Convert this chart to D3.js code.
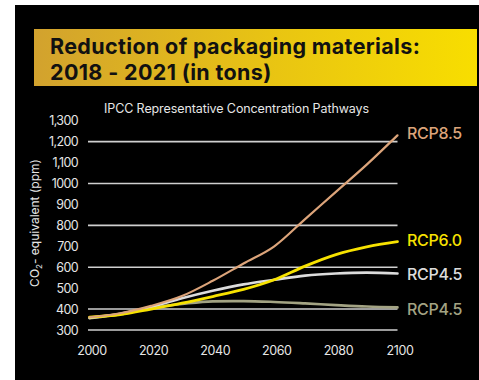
<!DOCTYPE html>
<html>
<head>
<meta charset="utf-8">
<script src="https://cdn.jsdelivr.net/npm/d3@7"></script>
<style>
  body { margin: 0; background: #fff; }
  svg { display: block; font-family: Inter, 'Open Sans', sans-serif; }
</style>
</head>
<body>
<svg id="chart" width="479" height="380"></svg>
<script>
// years on the x axis
var years = [2000, 2010, 2020, 2030, 2040, 2050, 2060, 2070, 2080, 2090, 2100]

// series values (ppm)
var rcp85 = [361, 380, 415, 462, 535, 618, 700, 830, 960, 1090, 1230]
var rcp60 = [362, 374, 400, 428, 460, 494, 540, 605, 660, 697, 722]
var rcp45 = [358, 378, 410, 452, 488, 518, 540, 560, 570, 574, 570]
var rcp26 = [356, 375, 405, 424, 437, 438, 434, 427, 419, 412, 408]

var seriesNames = ['RCP4.5', 'RCP4.5', 'RCP6.0', 'RCP8.5']
var seriesColors = ['#a3a383', '#dcdcdc', '#f7e200', '#dca47a']

// tick labels
var yTicks = [300, 400, 500, 600, 700, 800, 900, 1000, 1100, 1200, 1300]
var yTickLabels = ['300', '400', '500', '600', '700', '800', '900', '1000', '1,100', '1,200', '1,300']
var gridValues = [300, 400, 600, 800, 1000, 1200]
var xTicks = [2000, 2020, 2040, 2060, 2080, 2100]

var svg = d3.select('#chart')

// black panel
svg.append('rect')
  .attr('x', 15).attr('y', 5)
  .attr('width', 464).attr('height', 375)
  .attr('fill', '#000')

// title banner with gradient
var grad = svg.append('defs').append('linearGradient')
  .attr('id', 'banner')
  .attr('x1', '0%').attr('x2', '100%')
grad.append('stop').attr('offset', '0%').attr('stop-color', '#d2a22e')
grad.append('stop').attr('offset', '55%').attr('stop-color', '#e9c512')
grad.append('stop').attr('offset', '100%').attr('stop-color', '#f8de00')

svg.append('rect')
  .attr('x', 34).attr('y', 29)
  .attr('width', 443).attr('height', 57)
  .attr('fill', 'url(#banner)')

// two title lines as separate texts
var titleLines = ['Reduction of packaging materials:', '2018 - 2021 (in tons)']
svg.append('g')
  .selectAll('text')
  .data(titleLines)
  .enter()
  .append('text')
  .attr('x', 50)
  .attr('y', (d, i) => 53.5 + i * 26.5)
  .attr('font-size', 21.5)
  .attr('font-weight', 700)
  .attr('fill', '#111')
  .attr('letter-spacing', 0.35)
  .text(d => d)

// scales
var x = d3.scaleLinear().domain([2000, 2100]).range([89.5, 397.5])
var y = d3.scaleLinear().domain([300, 1300]).range([330, 120.7])

// subtitle
svg.append('text')
  .attr('x', 104).attr('y', 113)
  .attr('font-size', 12.5)
  .attr('fill', '#e6e6e6')
  .attr('letter-spacing', -0.1)
  .text('IPCC Representative Concentration Pathways')

// grid lines
svg.append('g')
  .selectAll('line')
  .data(gridValues)
  .enter()
  .append('line')
  .attr('x1', x(2000) - 1.5)
  .attr('x2', x(2100))
  .attr('y1', d => y(d))
  .attr('y2', d => y(d))
  .attr('stroke', '#cfcfcf')
  .attr('stroke-width', 1.6)

// y axis labels
var yAxis = d3.axisLeft(y)
  .tickValues(yTicks)
  .tickSize(0)
  .tickPadding(0)
  .tickFormat((d, i) => yTickLabels[i])
var gy = svg.append('g')
  .attr('transform', 'translate(78,0)')
  .call(yAxis)
gy.select('.domain').remove()
gy.selectAll('text')
  .attr('font-family', 'Inter, sans-serif')
  .attr('font-size', 12.5)
  .attr('letter-spacing', -0.6)
  .attr('fill', '#e6e6e6')

// x axis labels
var xAxis = d3.axisBottom(x)
  .tickValues(xTicks)
  .tickSize(0)
  .tickPadding(0)
  .tickFormat(d3.format('d'))
var gx = svg.append('g')
  .attr('transform', 'translate(2,346)')
  .call(xAxis)
gx.select('.domain').remove()
gx.selectAll('text')
  .attr('font-family', 'Inter, sans-serif')
  .attr('font-size', 12.5)
  .attr('letter-spacing', -0.4)
  .attr('fill', '#e6e6e6')

// y axis title
var yTitle = svg.append('text')
  .attr('transform', 'translate(39,223) rotate(-90)')
  .attr('text-anchor', 'middle')
  .attr('font-size', 12)
  .attr('fill', '#e6e6e6')
yTitle.append('tspan').text('CO')
yTitle.append('tspan').attr('font-size', 8).attr('dy', 3).text('2')
yTitle.append('tspan').attr('dy', -3).text('- equivalent  (ppm)')

// lines
var allSeries = [rcp26, rcp45, rcp60, rcp85]
var widths = [2.6, 2.6, 2.8, 2.2]
var line = d3.line()
  .x((d, i) => x(years[i]))
  .y(d => y(d))
  .curve(d3.curveMonotoneX)

svg.append('g')
  .selectAll('path')
  .data(allSeries)
  .enter()
  .append('path')
  .attr('d', d => line(d))
  .attr('fill', 'none')
  .attr('stroke', (d, i) => seriesColors[i])
  .attr('stroke-width', (d, i) => widths[i])
  .attr('stroke-linecap', 'round')

// series labels at the end of each line
var labelY = [309, 274, 240, 133]
svg.append('g')
  .selectAll('text')
  .data(allSeries)
  .enter()
  .append('text')
  .attr('x', 407)
  .attr('y', (d, i) => labelY[i])
  .attr('dy', '0.36em')
  .attr('font-size', 16)
  .attr('font-weight', 500)
  .attr('letter-spacing', -0.3)
  .attr('fill', (d, i) => seriesColors[i])
  .text((d, i) => seriesNames[i])
</script>
</body>
</html>
